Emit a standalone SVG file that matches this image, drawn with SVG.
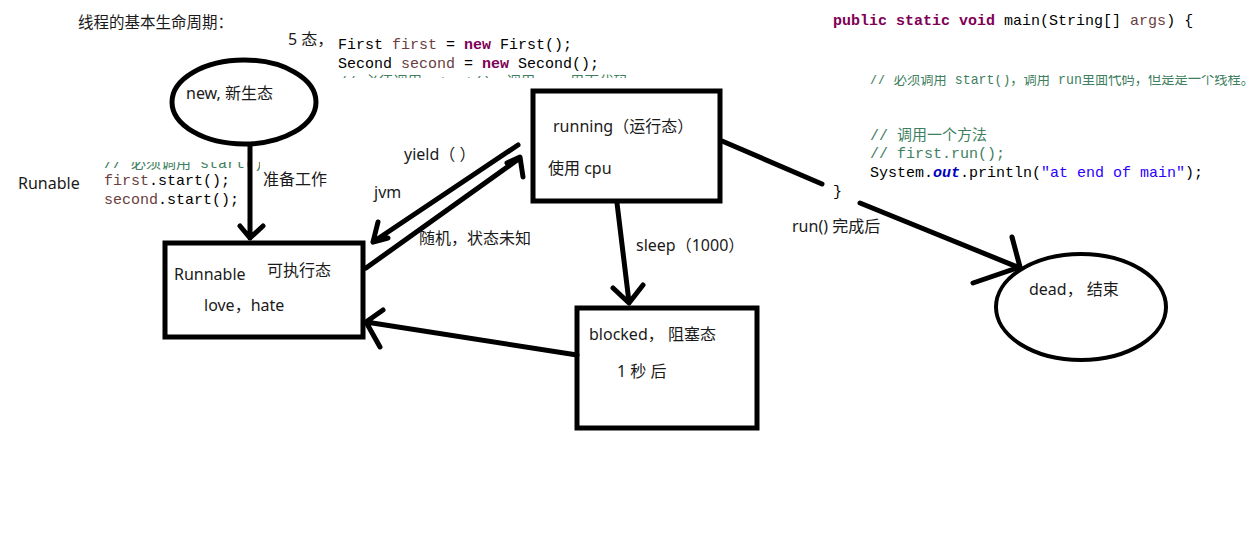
<svg xmlns="http://www.w3.org/2000/svg" width="1259" height="542" viewBox="0 0 1259 542">
<style>
.lbl{font-family:"Noto Sans","Noto Sans CJK SC",sans-serif;font-size:16px;fill:#1a1a1a}
.ttl{font-size:15.5px}
.code{font-family:"Liberation Mono","Noto Sans CJK SC",monospace;font-size:15px;fill:#000}
.kw{fill:#7F0055;font-weight:bold}
.var{fill:#6A3E3E}
.cm{fill:#3F7F5F}
.fld{fill:#0000C0;font-weight:bold;font-style:italic}
.str{fill:#2A00FF}
.node{fill:none;stroke:#000;stroke-width:5}
.edge{fill:none;stroke:#000;stroke-width:5;stroke-linecap:round;stroke-linejoin:round}
</style>
<defs>
<clipPath id="c1"><rect x="860" y="75" width="399" height="12"/></clipPath>
<clipPath id="c2"><rect x="100" y="162" width="160" height="10"/></clipPath>
<clipPath id="c3"><rect x="330" y="72" width="300" height="6"/></clipPath>
</defs>
<rect width="1259" height="542" fill="#fff"/>

<g id="annotations">
<text class="lbl ttl" x="78" y="28">线程的基本生命周期：</text>
<text class="lbl" x="288" y="45">5 态，</text>
<text class="code" x="338" y="49">First <tspan class="var">first</tspan> = <tspan class="kw">new</tspan> First();</text>
<text class="code" x="338" y="68">Second <tspan class="var">second</tspan> = <tspan class="kw">new</tspan> Second();</text>
<text class="code cm" x="338" y="87" clip-path="url(#c3)" textLength="290" lengthAdjust="spacingAndGlyphs">// 必须调用 start()，调用 run里面代码</text>
<text class="code" x="833" y="25"><tspan class="kw">public</tspan> <tspan class="kw">static</tspan> <tspan class="kw">void</tspan> main(String[] <tspan class="var">args</tspan>) {</text>
<text class="code cm" x="870" y="84" clip-path="url(#c1)" textLength="384" lengthAdjust="spacingAndGlyphs">// 必须调用 start()，调用 run里面代码，但是是一个线程。</text>
<text class="code cm" x="870" y="140">// 调用一个方法</text>
<text class="code cm" x="870" y="158">// first.run();</text>
<text class="code" x="870" y="177">System.<tspan class="fld">out</tspan>.println(<tspan class="str">"at end of main"</tspan>);</text>
<text class="code" x="833" y="196">}</text>
<text class="code cm" x="104" y="168" clip-path="url(#c2)">// 必须调用 start()</text>
<text class="code" x="104" y="185"><tspan class="var">first</tspan>.start();</text>
<text class="code" x="104" y="204"><tspan class="var">second</tspan>.start();</text>
<text class="lbl" x="18" y="189">Runable</text>
</g>

<g id="connectors">
<path class="edge" d="M250,146 L250,238 M240,226 L250,238 L263,226"/>
<path class="edge" d="M518,145 L373,242 M378,222 L373,242 L388,238"/>
<path class="edge" d="M366,268 L520,158 M507,163 L520,157 L523,177"/>
<path class="edge" d="M617,203 L629,302 M613,288 L629,303 L643,285"/>
<path class="edge" d="M577,355 L366,322 M383,310 L366,322 L380,347"/>
<path class="edge" d="M722,141 L822,184 M860,203 L1020,268 M1012,237 L1020,267 L973,283"/>
<text class="lbl" x="404" y="160">yield（ ）</text>
<text class="lbl" x="263" y="185">准备工作</text>
<text class="lbl" x="374" y="198">jvm</text>
<text class="lbl" x="419" y="244">随机，状态未知</text>
<text class="lbl" x="636" y="251">sleep（1000）</text>
<text class="lbl" x="792" y="232">run() 完成后</text>
</g>

<g id="node-new">
<ellipse class="node" cx="244" cy="102" rx="72" ry="42"/>
<text class="lbl" x="186" y="99">new, 新生态</text>
</g>

<g id="node-runnable">
<rect class="node" x="165" y="243" width="198" height="94"/>
<text class="lbl" x="174" y="280">Runnable</text>
<text class="lbl" x="267" y="276">可执行态</text>
<text class="lbl" x="204" y="311">love，hate</text>
</g>

<g id="node-running">
<rect class="node" x="533" y="91" width="187" height="110"/>
<text class="lbl" x="553" y="132">running（运行态）</text>
<text class="lbl" x="548" y="174">使用 cpu</text>
</g>

<g id="node-blocked">
<rect class="node" x="577" y="308" width="180" height="120"/>
<text class="lbl" x="589" y="340">blocked， 阻塞态</text>
<text class="lbl" x="617" y="377">1 秒 后</text>
</g>

<g id="node-dead">
<ellipse class="node" cx="1081" cy="307" rx="85" ry="53" style="stroke-width:4"/>
<text class="lbl" x="1029" y="295">dead， 结束</text>
</g>
</svg>
